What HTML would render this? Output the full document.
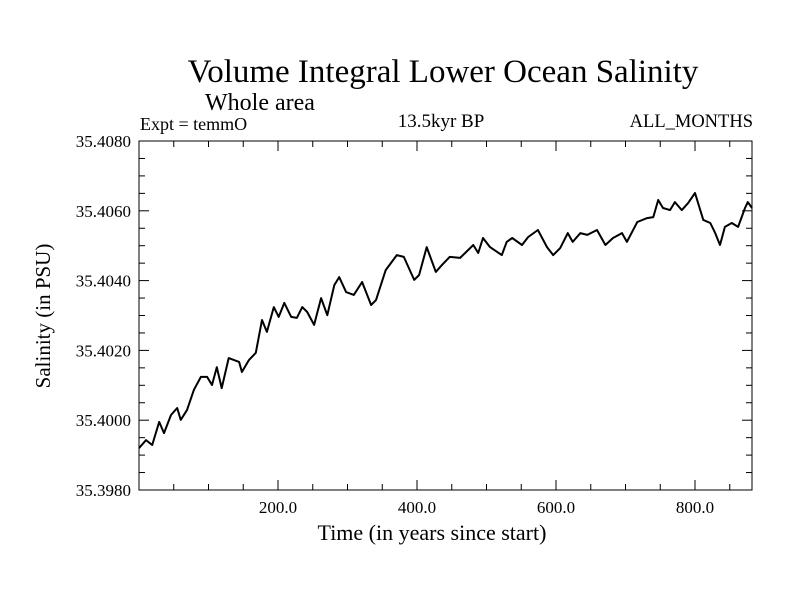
<!DOCTYPE html>
<html><head><meta charset="utf-8"><style>
body{margin:0;background:#fff}
svg{display:block;font-family:"Liberation Serif",serif}
</style></head><body>
<svg id="chart" width="800" height="600">
<text x="443" y="82" font-size="33" text-anchor="middle">Volume Integral Lower Ocean Salinity</text>
<text x="205" y="110" font-size="24">Whole area</text>
<text x="140" y="130" font-size="18">Expt = temmO</text>
<text x="441" y="127" font-size="19" text-anchor="middle">13.5kyr BP</text>
<text x="753" y="127" font-size="18.5" text-anchor="end">ALL_MONTHS</text>
<rect x="139" y="141" width="613" height="349" fill="none" stroke="#000" stroke-width="1"/>
<g id="ticks"></g>
<path id="line" fill="none" stroke="#000" stroke-width="2" stroke-linejoin="round"/>
<text x="432" y="540" font-size="22" text-anchor="middle">Time (in years since start)</text>
<text transform="translate(50,316) rotate(-90)" font-size="21" text-anchor="middle">Salinity (in PSU)</text>
</svg>
<script>
const years=[0,10,19,29,36,46,55,60,69,79,89,98,105,112,119,129,144,148,158,168,177,184,194,201,209,219,227,235,242,252,262,271,281,288,298,309,321,334,341,355,371,381,396,403,414,427,436,447,462,481,488,495,505,522,529,537,551,560,574,587,596,606,617,624,635,645,659,671,682,695,702,717,731,740,747,754,764,771,781,790,800,812,822,829,836,843,853,862,872,876,882];
const salinity=[35.39920,35.39943,35.39929,35.39995,35.39963,35.40015,35.40035,35.40001,35.40029,35.40087,35.40124,35.40124,35.40101,35.40152,35.40092,35.40178,35.40167,35.40138,35.40172,35.40193,35.40287,35.40253,35.40324,35.40296,35.40336,35.40296,35.40293,35.40324,35.40310,35.40273,35.40350,35.40301,35.40387,35.40410,35.40367,35.40359,35.40396,35.40330,35.40344,35.40430,35.40473,35.40468,35.40402,35.40416,35.40496,35.40425,35.40445,35.40468,35.40465,35.40502,35.40479,35.40522,35.40496,35.40473,35.40511,35.40522,35.40502,35.40525,35.40545,35.40496,35.40473,35.40493,35.40536,35.40511,35.40536,35.40531,35.40545,35.40502,35.40522,35.40536,35.40511,35.40568,35.40579,35.40582,35.40631,35.40608,35.40602,35.40625,35.40602,35.40622,35.40651,35.40574,35.40565,35.40536,35.40502,35.40554,35.40565,35.40554,35.40608,35.40625,35.40608];
const xTickLabels=["200.0","400.0","600.0","800.0"];
const yTickLabels=["35.3980","35.4000","35.4020","35.4040","35.4060","35.4080"];
const L=139,R=752,T=141,B=490,xMax=882,yMin=35.398,yMax=35.408;
const sx=v=>L+(v/xMax)*(R-L);
const sy=v=>B-(v-yMin)/(yMax-yMin)*(B-T);
const NS="http://www.w3.org/2000/svg";
const g=document.getElementById('ticks');
function mk(tag,at){const e=document.createElementNS(NS,tag);for(const k in at)e.setAttribute(k,at[k]);g.appendChild(e);return e;}
for(let v=50;v<xMax;v+=50){const x=sx(v),len=v%200===0?10:6;
 const t1=mk('line',{x1:x,x2:x,y1:B,y2:B-len,stroke:'#000'});
 
 
 const t2=mk('line',{x1:x,x2:x,y1:T,y2:T+len,stroke:'#000'});
 
 }
xTickLabels.forEach(s=>{const t=mk('text',{x:sx(parseFloat(s)),y:B+23,'font-size':17,'text-anchor':'middle'});t.textContent=s;
 
 });
for(let i=0;i<=20;i++){const v=yMin+i*0.0005,y=sy(v),len=i%4===0?10:6;
 const t1=mk('line',{x1:L,x2:L+len,y1:y,y2:y,stroke:'#000'});
 
 
 const t2=mk('line',{x1:R,x2:R-len,y1:y,y2:y,stroke:'#000'});
 
 }
yTickLabels.forEach(s=>{const t=mk('text',{x:L-8,y:sy(parseFloat(s))+6,'font-size':17,'text-anchor':'end'});t.textContent=s;
 
 });
document.getElementById('line').setAttribute('d',years.map((yr,i)=>(i?'L':'M')+sx(yr).toFixed(1)+','+sy(salinity[i]).toFixed(1)).join(''));
</script>
</body></html>
